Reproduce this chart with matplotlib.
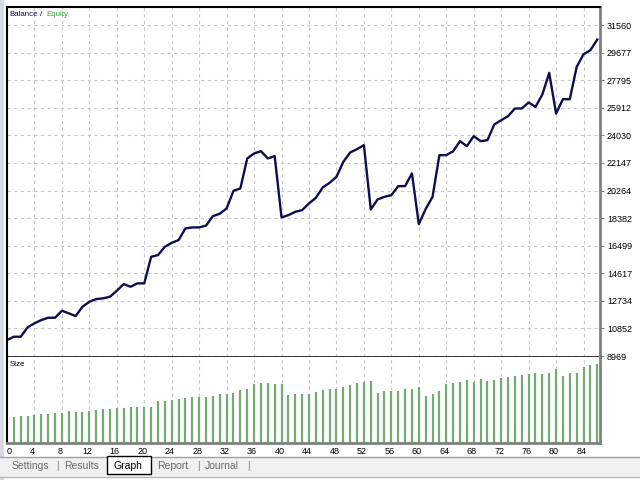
import matplotlib
matplotlib.use("Agg")
import matplotlib.pyplot as plt
import matplotlib.transforms as mtransforms
from matplotlib.patches import Rectangle

# balance after each closed trade (trade 0 = start)
balance = [10060, 10285, 10285, 10926, 11199, 11424, 11581, 11581, 12058, 11881,
           11697, 12331, 12672, 12856, 12904, 13013, 13422, 13879, 13695, 13927,
           13927, 15741, 15857, 16423, 16696, 16880, 17678, 17746, 17746, 17870,
           18517, 18680, 19042, 20242, 20406, 22452, 22793, 22950, 22452, 22609,
           18428, 18585, 18810, 18926, 19383, 19765, 20474, 20788, 21197, 22220,
           22861, 23086, 23359, 18974, 19656, 19833, 19949, 20563, 20563, 21429,
           17971, 19000, 19833, 22677, 22677, 22940, 23632, 23291, 23973, 23632,
           23700, 24771, 25062, 25337, 25862, 25862, 26271, 25971, 26817, 28291,
           25521, 26497, 26497, 28699, 29565, 29838, 30568]

# lot size of trades 1..86
lots = [1.00, 1.03, 1.03, 1.08, 1.12, 1.12, 1.14, 1.17, 1.22, 1.18,
        1.18, 1.22, 1.26, 1.30, 1.30, 1.33, 1.36, 1.38, 1.38, 1.38,
        1.38, 1.60, 1.60, 1.64, 1.68, 1.73, 1.78, 1.78, 1.77, 1.81,
        1.87, 1.87, 1.91, 2.05, 2.08, 2.27, 2.31, 2.31, 2.28, 2.28,
        1.85, 1.87, 1.87, 1.90, 1.95, 2.03, 2.08, 2.08, 2.14, 2.25,
        2.31, 2.33, 2.37, 1.91, 1.99, 2.02, 2.02, 2.08, 2.08, 2.17,
        1.81, 1.90, 2.02, 2.28, 2.32, 2.35, 2.41, 2.35, 2.45, 2.38,
        2.41, 2.50, 2.54, 2.57, 2.60, 2.64, 2.69, 2.64, 2.71, 2.86,
        2.57, 2.69, 2.69, 2.92, 3.02, 3.04]

y_ticks = [8969, 10852, 12734, 14617, 16499, 18382, 20264, 22147,
           24030, 25912, 27795, 29677, 31560]
x_ticks = list(range(0, 85, 4))
tabs = ["Settings", "Results", "Graph", "Report", "Journal"]

NAVY = "#0e0e4e"
GREEN = "#74ab74"
GRID = "#c8c8c8"
FRAME = "#808080"
FONT = "Liberation Sans"

W, H = 640, 480

plt.rcParams["font.family"] = FONT


def box(x0, y0, x1, y1):
    # pixel box, origin top-left -> figure fraction rect
    return [x0 / W, 1 - y1 / H, (x1 - x0) / W, (y1 - y0) / H]


def px(x, y):
    return x / W, 1 - y / H


fig = plt.figure(figsize=(6.4, 4.8), dpi=100)
fig.patch.set_facecolor("white")

# window decorations
fig.patches.append(Rectangle(px(0, 480), 4 / W, 1, transform=fig.transFigure,
                             facecolor="#d6dbe2", edgecolor="none", zorder=0))
fig.patches.append(Rectangle(px(0, 478), 1, 21 / H, transform=fig.transFigure,
                             facecolor="#f0f0f0", edgecolor="none", zorder=0))
fig.lines.append(plt.Line2D([0, 1], [1 - 457 / H] * 2, transform=fig.transFigure,
                            color="#a0a0a0", lw=1))
fig.lines.append(plt.Line2D([0, 1], [1 - 477 / H] * 2, transform=fig.transFigure,
                            color="#b8b8b8", lw=1))
fig.patches.append(Rectangle(px(107, 474), 44 / W, 18 / H, transform=fig.transFigure,
                             facecolor="white", edgecolor="black", lw=1, zorder=2))

tab_x = [30, 82, 128, 173, 222]
for name, x in zip(tabs, tab_x):
    fig.text(*px(x, 466), name, ha="center", va="center", fontsize=7.5,
             color="black" if name == "Graph" else "#6a6a6a", zorder=3)
for x in [57, 198, 248]:
    fig.text(*px(x, 466), "|", ha="center", va="center", fontsize=7.5, color="#8a8a8a")

# balance panel
ax = fig.add_axes(box(7, 7, 600, 357))
ax.plot(range(len(balance)), balance, color=NAVY, lw=1.7, solid_joinstyle="round")
ax.set_xlim(0, 86.4)
ax.set_ylim(8901, 32789)
ax.set_xticks(x_ticks)
ax.set_yticks(y_ticks)
ax.yaxis.tick_right()
ax.tick_params(axis="x", length=0, labelbottom=False)
ax.tick_params(axis="y", length=3, width=0.8, color=FRAME, pad=2, labelsize=6.5)
ax.grid(True, color=GRID, ls=(0, (3, 3)), lw=0.8)
for side in ["top", "left"]:
    ax.spines[side].set_color("black")
    ax.spines[side].set_linewidth(1.5)
ax.spines["right"].set_color(FRAME)
ax.spines["right"].set_linewidth(2)
ax.spines["bottom"].set_color("#222222")
ax.spines["bottom"].set_linewidth(2)

ax.text(*px(9, 14), "Balance", transform=fig.transFigure, fontsize=5.7,
        color=NAVY, va="center")
ax.text(*px(40.5, 14), "/", transform=fig.transFigure, fontsize=5.7,
        color="black", va="center")
ax.text(*px(46, 14), "Equity", transform=fig.transFigure, fontsize=5.7,
        color="#3da33d", va="center")

# size panel
ax2 = fig.add_axes(box(7, 357, 600, 443))
ax2.vlines(range(1, len(lots) + 1), 0, lots, color=GREEN, lw=1.6)
ax2.set_xlim(0, 86.4)
ax2.set_ylim(0, 3.31)
ax2.set_yticks([])
ax2.set_xticks(x_ticks)
ax2.set_xticklabels([str(t) for t in x_ticks])
ax2.tick_params(axis="x", length=0, pad=3, labelsize=6.5)
shift_left = mtransforms.ScaledTranslation(-2 / 100, 0, fig.dpi_scale_trans)
shift_right = mtransforms.ScaledTranslation(2 / 100, 0, fig.dpi_scale_trans)
labels = ax2.get_xticklabels()
labels[0].set_transform(labels[0].get_transform() + shift_right)
for lbl in labels[1:]:
    lbl.set_transform(lbl.get_transform() + shift_left)
ax2.grid(True, axis="x", color=GRID, ls=(0, (3, 3)), lw=0.8)
ax2.spines["top"].set_visible(False)
ax2.spines["left"].set_color("black")
ax2.spines["left"].set_linewidth(1.5)
ax2.spines["right"].set_color(FRAME)
ax2.spines["right"].set_linewidth(2)
ax2.spines["bottom"].set_color(FRAME)
ax2.spines["bottom"].set_linewidth(2)
ax2.text(*px(10, 365), "Size", transform=fig.transFigure, fontsize=5.7,
         color="black", va="center")

fig.savefig("out.png", dpi=100)
